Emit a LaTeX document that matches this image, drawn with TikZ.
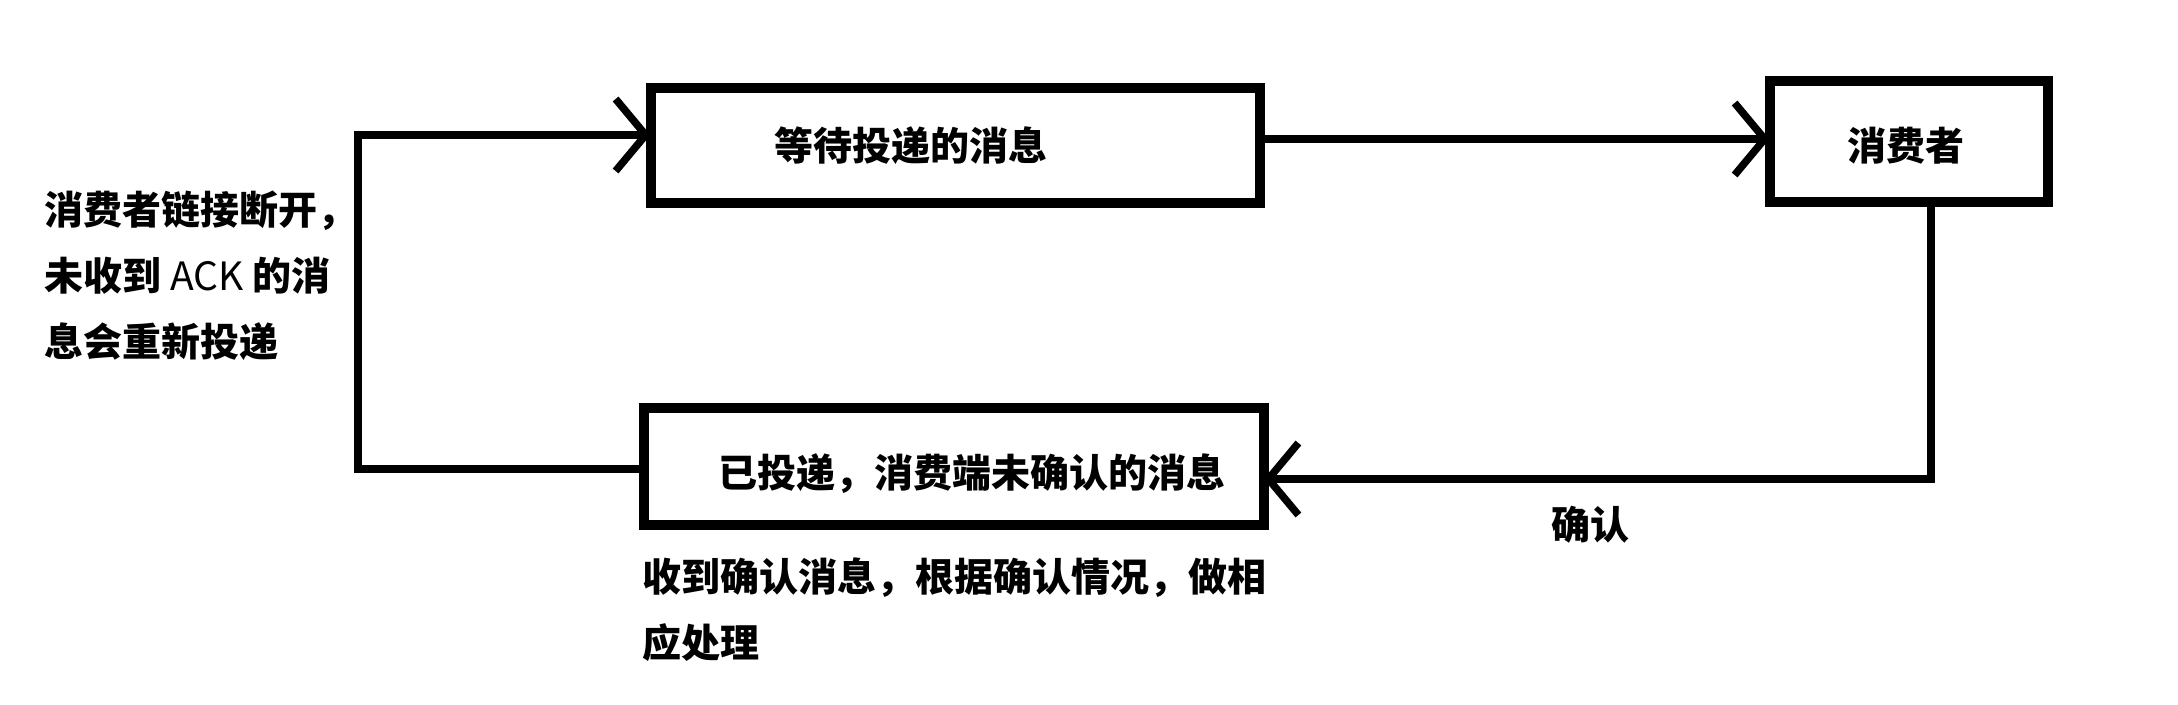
\documentclass[tikz,border=0pt]{standalone}
\usepackage{fontspec}
\setmainfont{Noto Sans CJK SC}
\usetikzlibrary{arrows.meta}
\begin{document}
\begin{tikzpicture}[x=1pt,y=-1pt,
  box/.style={draw, line width=10pt, inner sep=0pt, outer sep=0pt},
  lbl/.style={font=\bfseries\fontsize{39}{66}\selectfont, inner sep=0pt, align=left},
  conn/.style={line width=7.5pt, line cap=round},
  arr/.style={conn, -{Straight Barb[length=30pt,width=72pt]}}]
\useasboundingbox (0,0) rectangle (2178,704);
% boxes
\node[box, minimum width=609pt, minimum height=115pt] (b1) at (955,145) {};
\node[box, minimum width=278pt, minimum height=121pt] (b2) at (1908.5,141) {};
\node[box, minimum width=620pt, minimum height=117pt] (b3) at (953.5,466) {};
% box texts
\node[lbl, anchor=west] (t1) at (774,146) {等待投递的消息};
\node[lbl, anchor=west] (t2) at (1847,146) {消费者};
\node[lbl, anchor=west] (t3) at (718,474) {已投递，消费端未确认的消息};
% notes
\node[lbl, anchor=west] (n1) at (44,276) {消费者链接断开，\\未收到 {\mdseries ACK} 的消\\息会重新投递};
\node[lbl, anchor=west] (n2) at (642,610) {收到确认消息，根据确认情况，做相\\应处理};
\node[lbl] (n3) at (1590,525) {确认};
% connectors
\coordinate (l1) at (358,469);
\coordinate (l2) at (358,135);
\coordinate (m1) at (1264,139);
\coordinate (r1) at (1931,479);
\draw[arr] (b3.west |- l1) -- (l1) -- (l2) -- (b1.west |- l2);
\draw[arr] (b1.east |- m1) -- (b2.west |- m1);
\draw[arr] (b2.south -| r1) -- (r1) -- (b3.east |- r1);
\end{tikzpicture}
\end{document}
